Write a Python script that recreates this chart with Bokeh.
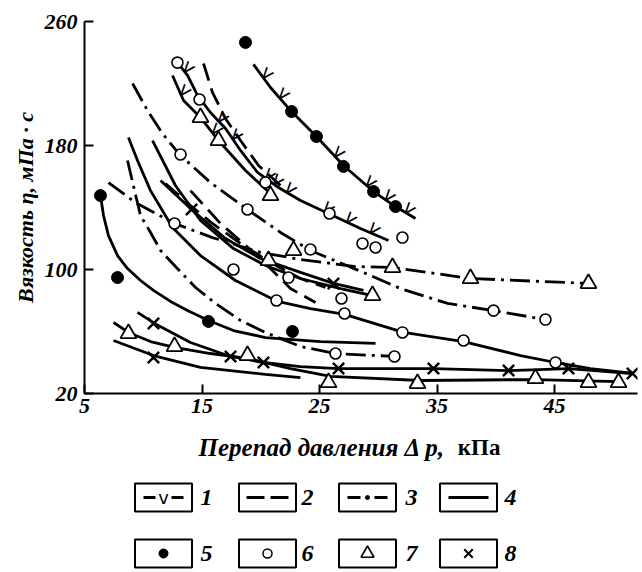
import numpy as np
from bokeh.plotting import figure
from bokeh.models import Range1d, FixedTicker
from bokeh.layouts import column
from bokeh.core.properties import value
from bokeh.embed import file_html
from bokeh.resources import INLINE

# ---------------- data (Δp, kPa ; viscosity, mPa·s) ----------------
x_ticks = [5, 15, 25, 35, 45]
y_ticks = [20, 100, 180, 260]

# type 1 curves (line with V marks)
c1_x = [19.38, 20.83, 22.62, 24.74, 27.04, 29.6, 31.47, 33.17]
c1_y = [232.3, 217.4, 201.9, 185.8, 167.1, 150.3, 140.6, 132.9]
c2_x = [12.91, 13.77, 14.62, 15.72, 17.0, 18.28, 19.72, 21.51, 23.38, 25.94, 28.49, 30.87]
c2_y = [233.5, 225.2, 212.3, 201.3, 191.0, 176.8, 162.6, 152.9, 144.5, 135.5, 126.5, 118.7]
c3_x = [12.49, 13.43, 14.87, 16.40, 18.70, 21.0]
c3_y = [225.2, 209.0, 198.1, 183.2, 163.9, 147.7]
# type 2 curves (dashed)
c4_x = [15.13, 15.89, 17.0, 18.28, 19.81, 21.68]
c4_y = [232.9, 214.2, 197.4, 183.2, 167.1, 154.2]
c5_x = [11.89, 14.02, 15.89, 18.28, 20.83, 23.38, 25.51]
c5_y = [155.5, 141.3, 129.7, 116.8, 104.5, 94.2, 88.4]
c6_x = [14.02, 16.57, 19.98, 22.53, 24.66]
c6_y = [150.9, 129.7, 107.1, 87.7, 78.7]
# type 3 curves (dash-dot)
c7_x = [9.09, 10.36, 11.64, 13.09, 15.72, 18.87, 21.68, 24.23, 28.74, 31.89, 35.9, 39.81, 44.23]
c7_y = [220.0, 202.6, 187.7, 174.2, 156.1, 138.7, 123.9, 112.3, 98.1, 87.7, 78.1, 73.5, 67.7]
c8_x = [7.04, 9.34, 12.66, 15.89, 19.98, 23.38, 28.06, 31.21, 37.85, 47.89]
c8_y = [156.1, 143.2, 129.7, 120.6, 111.0, 106.5, 101.9, 101.3, 94.2, 91.0]
c9_x = [8.66, 9.26, 9.77, 10.62, 11.47, 12.74, 14.45, 16.15, 18.28, 20.40, 23.38, 26.36, 31.38]
c9_y = [170.3, 150.9, 134.8, 123.9, 112.3, 101.9, 88.4, 78.1, 67.1, 59.4, 50.3, 45.8, 43.9]
# type 4 curves (solid)
c10_x = [6.36, 6.62, 7.04, 7.81, 8.66, 9.77, 10.87, 12.32, 13.77, 15.55, 17.68, 20.40, 25.09, 29.77]
c10_y = [147.7, 134.8, 121.9, 109.0, 100.6, 92.9, 86.5, 79.4, 73.5, 67.1, 60.6, 56.1, 53.5, 52.3]
c11_x = [8.74, 9.51, 10.62, 12.49, 14.87, 17.85, 21.43, 24.23, 27.13, 32.15, 37.26, 42.11, 45.09, 48.06, 51.72]
c11_y = [185.2, 170.3, 150.9, 127.1, 109.0, 92.9, 79.4, 74.8, 71.0, 59.4, 53.5, 44.5, 40.0, 36.1, 32.9]
c12_x = [10.79, 12.74, 14.87, 17.68, 20.40, 23.38, 26.79, 29.51]
c12_y = [183.2, 154.2, 131.6, 113.5, 102.6, 94.2, 87.7, 83.2]
c13_x = [11.47, 14.11, 17.0, 19.98, 23.38, 26.19, 28.74]
c13_y = [157.4, 138.7, 120.0, 107.1, 98.1, 91.0, 86.5]
c14_x = [9.51, 10.96, 14.02, 17.43, 20.23, 23.38, 26.62, 34.7, 41.09, 46.19, 51.64]
c14_y = [72.3, 65.2, 52.9, 43.9, 40.0, 37.4, 36.1, 36.1, 34.8, 36.1, 32.9]
c15_x = [7.47, 8.74, 10.62, 12.66, 15.72, 18.87, 22.53, 25.94, 33.6, 43.38, 50.45]
c15_y = [65.8, 59.4, 53.5, 49.7, 45.8, 42.6, 36.1, 31.0, 28.4, 29.0, 27.7]
c16_x = [7.47, 10.87, 14.87, 20.40, 23.38]
c16_y = [54.2, 44.5, 36.8, 32.3, 30.3]

# V marks (type 1) positions along type-1 curves
v1_x = [20.2, 21.6, 26.3, 29.0, 30.6, 32.3]
v2_x = [13.5, 16.4, 17.6, 20.4, 21.1, 22.2, 25.4, 27.3, 29.3]
v3_x = [13.2, 15.9]

# 5: filled dots
dot_x = [18.70, 22.62, 24.74, 27.04, 29.6, 31.47, 6.36, 7.81, 15.55, 22.70]
dot_y = [246.5, 201.9, 185.8, 166.5, 150.3, 140.6, 147.7, 94.8, 66.5, 60.0]
# 6: open circles
circ_x = [12.91, 14.79, 13.17, 20.40, 25.85, 28.66, 29.77, 32.06, 12.66, 18.87, 24.23, 17.68,
          22.36, 21.34, 26.87, 27.13, 32.06, 37.26, 39.81, 44.23, 45.09, 26.36, 31.38]
circ_y = [233.5, 209.7, 174.2, 156.1, 136.1, 116.8, 114.2, 120.6, 129.7, 138.7, 112.9, 100.0,
          94.8, 80.0, 81.3, 71.6, 59.4, 54.2, 73.5, 67.7, 40.0, 45.8, 43.9]
# 7: open triangles
tri_x = [14.87, 16.40, 20.83, 20.66, 22.79, 31.21, 37.85, 47.89, 29.51, 8.74, 12.66, 18.87,
         25.77, 33.34, 43.38, 47.89, 50.45]
tri_y = [198.1, 183.2, 147.7, 105.8, 112.3, 101.3, 94.2, 91.0, 83.2, 58.7, 50.3, 44.5,
         27.1, 26.5, 29.7, 27.1, 27.1]
# 8: crosses
x_x = [14.11, 26.19, 10.87, 10.87, 17.43, 20.23, 26.62, 34.70, 41.09, 46.19, 51.64]
x_y = [138.7, 91.0, 65.2, 43.2, 43.9, 40.0, 36.1, 36.1, 34.8, 36.1, 32.9]

legend_labels = ["1", "2", "3", "4", "5", "6", "7", "8"]
x_title_a, x_title_b = "Перепад давления Δ p,", "кПа"
y_title = "Вязкость η, мПа · с"

# ---------------- styles ----------------
SERIF = "Liberation Serif"
DASH = {1: "solid", 2: "18 8", 3: "20 6 3 6", 4: "solid"}
curves = [
    (c1_x, c1_y, 1), (c2_x, c2_y, 1), (c3_x, c3_y, 1),
    (c4_x, c4_y, 2), (c5_x, c5_y, 2), (c6_x, c6_y, 2),
    (c7_x, c7_y, 3), (c8_x, c8_y, 3), (c9_x, c9_y, 3),
    (c10_x, c10_y, 4), (c11_x, c11_y, 4), (c12_x, c12_y, 4),
    (c13_x, c13_y, 4), (c14_x, c14_y, 4), (c15_x, c15_y, 4), (c16_x, c16_y, 4),
]

FL, FR = 84, 5  # frame borders (px)
H1 = 428
p = figure(width=642, height=H1, output_backend="svg", toolbar_location=None,
           x_range=Range1d(5, 5 + 553 / 11.75), y_range=Range1d(20, 260),
           min_border_left=FL, min_border_right=FR, min_border_top=21, min_border_bottom=H1 - 393)
p.outline_line_color = None
p.xgrid.visible = False
p.ygrid.visible = False

for ax, ticks in ((p.xaxis, x_ticks), (p.yaxis, y_ticks)):
    ax.ticker = FixedTicker(ticks=ticks)
    ax.axis_line_width = 2
    ax.axis_line_color = "black"
    ax.major_tick_in = 9
    ax.major_tick_out = 0
    ax.major_tick_line_width = 2
    ax.minor_tick_line_color = None
    ax.major_label_text_font = SERIF
    ax.major_label_text_font_style = "bold italic"
    ax.major_label_text_font_size = "22px"
    ax.major_label_text_color = "black"
p.xaxis.major_label_standoff = 5
p.yaxis.major_label_standoff = 7
p.yaxis.axis_label = y_title
p.yaxis.axis_label_text_font = SERIF
p.yaxis.axis_label_text_font_style = "bold italic"
p.yaxis.axis_label_text_font_size = "22px"
p.yaxis.axis_label_text_color = "black"
p.yaxis.axis_label_standoff = 4

for xs, ys, t in curves:
    p.line(xs, ys, line_width=2.8, line_color="black", line_dash=DASH[t])

# V marks on type-1 curves
for vx, (cx, cy) in ((v1_x, (c1_x, c1_y)), (v2_x, (c2_x, c2_y)), (v3_x, (c3_x, c3_y))):
    vy = list(np.interp(vx, cx, cy))
    p.text(vx, vy, text=["v"] * len(vx), text_font=value("DejaVu Sans"),
           text_font_size="19px", text_align="center",
           text_baseline="middle", angle=-0.7, text_color="black", x_offset=5, y_offset=-5)

p.scatter(dot_x, dot_y, marker="circle", size=12, fill_color="black", line_color="black")
p.scatter(circ_x, circ_y, marker="circle", size=11, fill_color="white", line_color="black", line_width=1.6)
p.scatter(tri_x, tri_y, marker="triangle", size=16, fill_color="white", line_color="black", line_width=1.8)
p.scatter(x_x, x_y, marker="x", size=16, line_color="black", line_width=2.5)

# ---------------- lower panel: x title + legend (frame aligned with main plot) ----------------
lg = figure(width=642, height=572 - H1, output_backend="svg", toolbar_location=None,
            x_range=Range1d(FL, 642 - FR), y_range=Range1d(572, H1),
            x_axis_type=None, y_axis_type=None,
            min_border_left=FL, min_border_right=FR, min_border_top=0, min_border_bottom=0)
lg.outline_line_color = None
lg.xgrid.visible = False
lg.ygrid.visible = False

lg.text([198], [447], text=[x_title_a], text_font=value(SERIF), text_font_style="bold italic",
        text_font_size="25px", text_align="left", text_baseline="middle", text_color="black")
lg.text([500], [447], text=[x_title_b], text_font=value(SERIF), text_font_style="bold",
        text_font_size="23px", text_align="right", text_baseline="middle", text_color="black")

box_cx = [163, 267, 367, 468]
lab_x = [206, 307, 411, 510]
row_y = [497, 553]
for ry in row_y:
    lg.rect(box_cx, [ry] * 4, width=57, height=28, fill_color=None, line_color="black", line_width=2)
lg.text(lab_x * 2, [row_y[0]] * 4 + [row_y[1]] * 4, text=legend_labels, text_font=value(SERIF),
        text_font_style="bold italic", text_font_size="24px", text_align="center",
        text_baseline="middle", text_color="black")

c = box_cx
y0 = row_y[0]
seg_x0 = [c[0] - 20, c[0] + 8, c[1] - 21, c[1] + 3, c[2] - 20, c[2] + 7, c[3] - 20]
seg_x1 = [c[0] - 8, c[0] + 20, c[1] - 3, c[1] + 21, c[2] - 7, c[2] + 20, c[3] + 20]
lg.segment(seg_x0, [y0] * 7, seg_x1, [y0] * 7, line_color="black", line_width=3)
lg.text([c[0]], [y0], text=["v"], text_font=value("DejaVu Sans"), text_font_size="18px",
        text_align="center", text_baseline="middle", text_color="black")
lg.scatter([c[2]], [y0], marker="circle", size=4, fill_color="black", line_color="black")

y1 = row_y[1]
lg.scatter([c[0]], [y1], marker="circle", size=9, fill_color="black", line_color="black")
lg.scatter([c[1]], [y1], marker="circle", size=9, fill_color="white", line_color="black", line_width=1.5)
lg.scatter([c[2]], [y1], marker="triangle", size=13, fill_color="white", line_color="black", line_width=1.6)
lg.scatter([c[3]], [y1], marker="x", size=12, line_color="black", line_width=2)

layout = column(p, lg, spacing=0)
open("out.html", "w").write(file_html(layout, INLINE))
